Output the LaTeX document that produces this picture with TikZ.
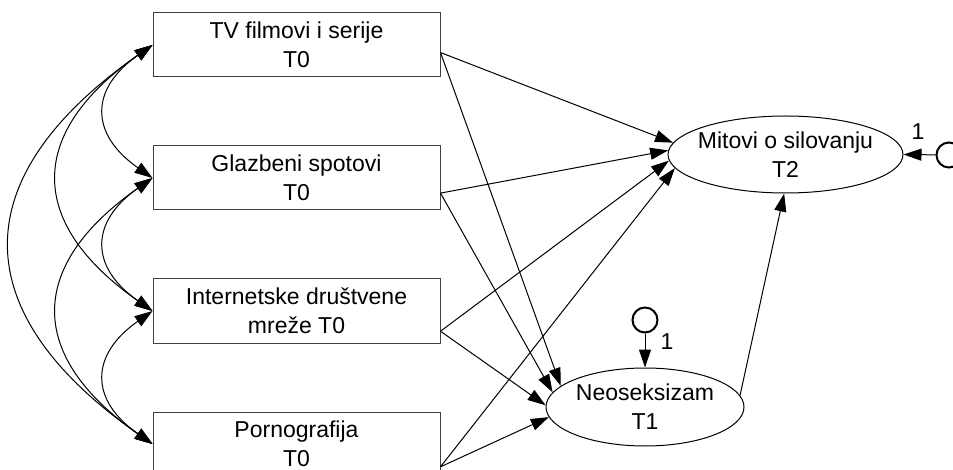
\documentclass[tikz,border=0pt]{standalone}
\usepackage{fontspec}
\setmainfont{Liberation Sans}
\usetikzlibrary{arrows.meta,shapes.geometric}

\begin{document}
\begin{tikzpicture}[x=0.5pt,y=0.5pt,line width=0.5pt,>={Triangle[length=9pt,width=6pt]}]
    \tikzstyle{every node}=[font=\fontsize{11.5}{14.5}\selectfont]
    \tikzstyle{obs}=[rectangle,draw=black!75,minimum width=143.5pt,minimum height=32pt,inner sep=0pt,align=center]
    \tikzstyle{lat}=[ellipse,draw,inner sep=-4pt,align=center]
    \tikzstyle{err}=[circle,draw,line width=1pt,minimum size=12.5pt,inner sep=0pt]
    \tikzstyle{cov}=[<->]

\useasboundingbox (0,0) rectangle (953,-470);
\clip (0,0) rectangle (953,-470);

\node[obs] (tv) at (296.5,-45) {TV filmovi i serije\\T0};
\node[obs] (glz) at (296.5,-178) {Glazbeni spotovi\\T0};
\node[obs] (int) at (296.5,-311) {Internetske društvene\\mreže T0};
\node[obs] (por) at (296.5,-444) {Pornografija\\T0};

\node[lat,minimum width=117.5pt,minimum height=38.5pt] (mit) at (785.5,-154.5) {Mitovi o silovanju\\T2};
\node[lat,minimum width=99pt,minimum height=39pt] (neo) at (645,-407) {Neoseksizam\\T1};

\node[err] (eneo) at (645,-320) {};
\node[err] (emit) at (949,-155) {};

% covariances
\foreach \a/\b in {tv/glz,glz/int,int/por,tv/int,glz/por,tv/por}{
\draw[cov] (\a.west) to[bend right=55,looseness=1.48] (\b.west);
};

% paths
\draw[->] (tv.-3) -- (mit.174);
\draw[->] (glz.-6) -- (mit.178);
\draw[->] (int.-8) -- (mit.183);
\draw[->] (por.-9.5) -- (mit.187);
\draw[->] (tv.-3) -- (neo.166);
\draw[->] (glz.-6) -- (neo.171);
\draw[->] (int.-8) -- (neo.179);
\draw[->] (por.-9.5) -- (neo.186);
\draw[->] (neo.7) -- (mit.-92);

% errors
\draw[->] (eneo) -- (neo.north);
\draw[->] (emit) -- (mit.east);
\node (lneo) at (667,-342) {1};
\node (lmit) at (918,-132) {1};
\end{tikzpicture}
\end{document}
